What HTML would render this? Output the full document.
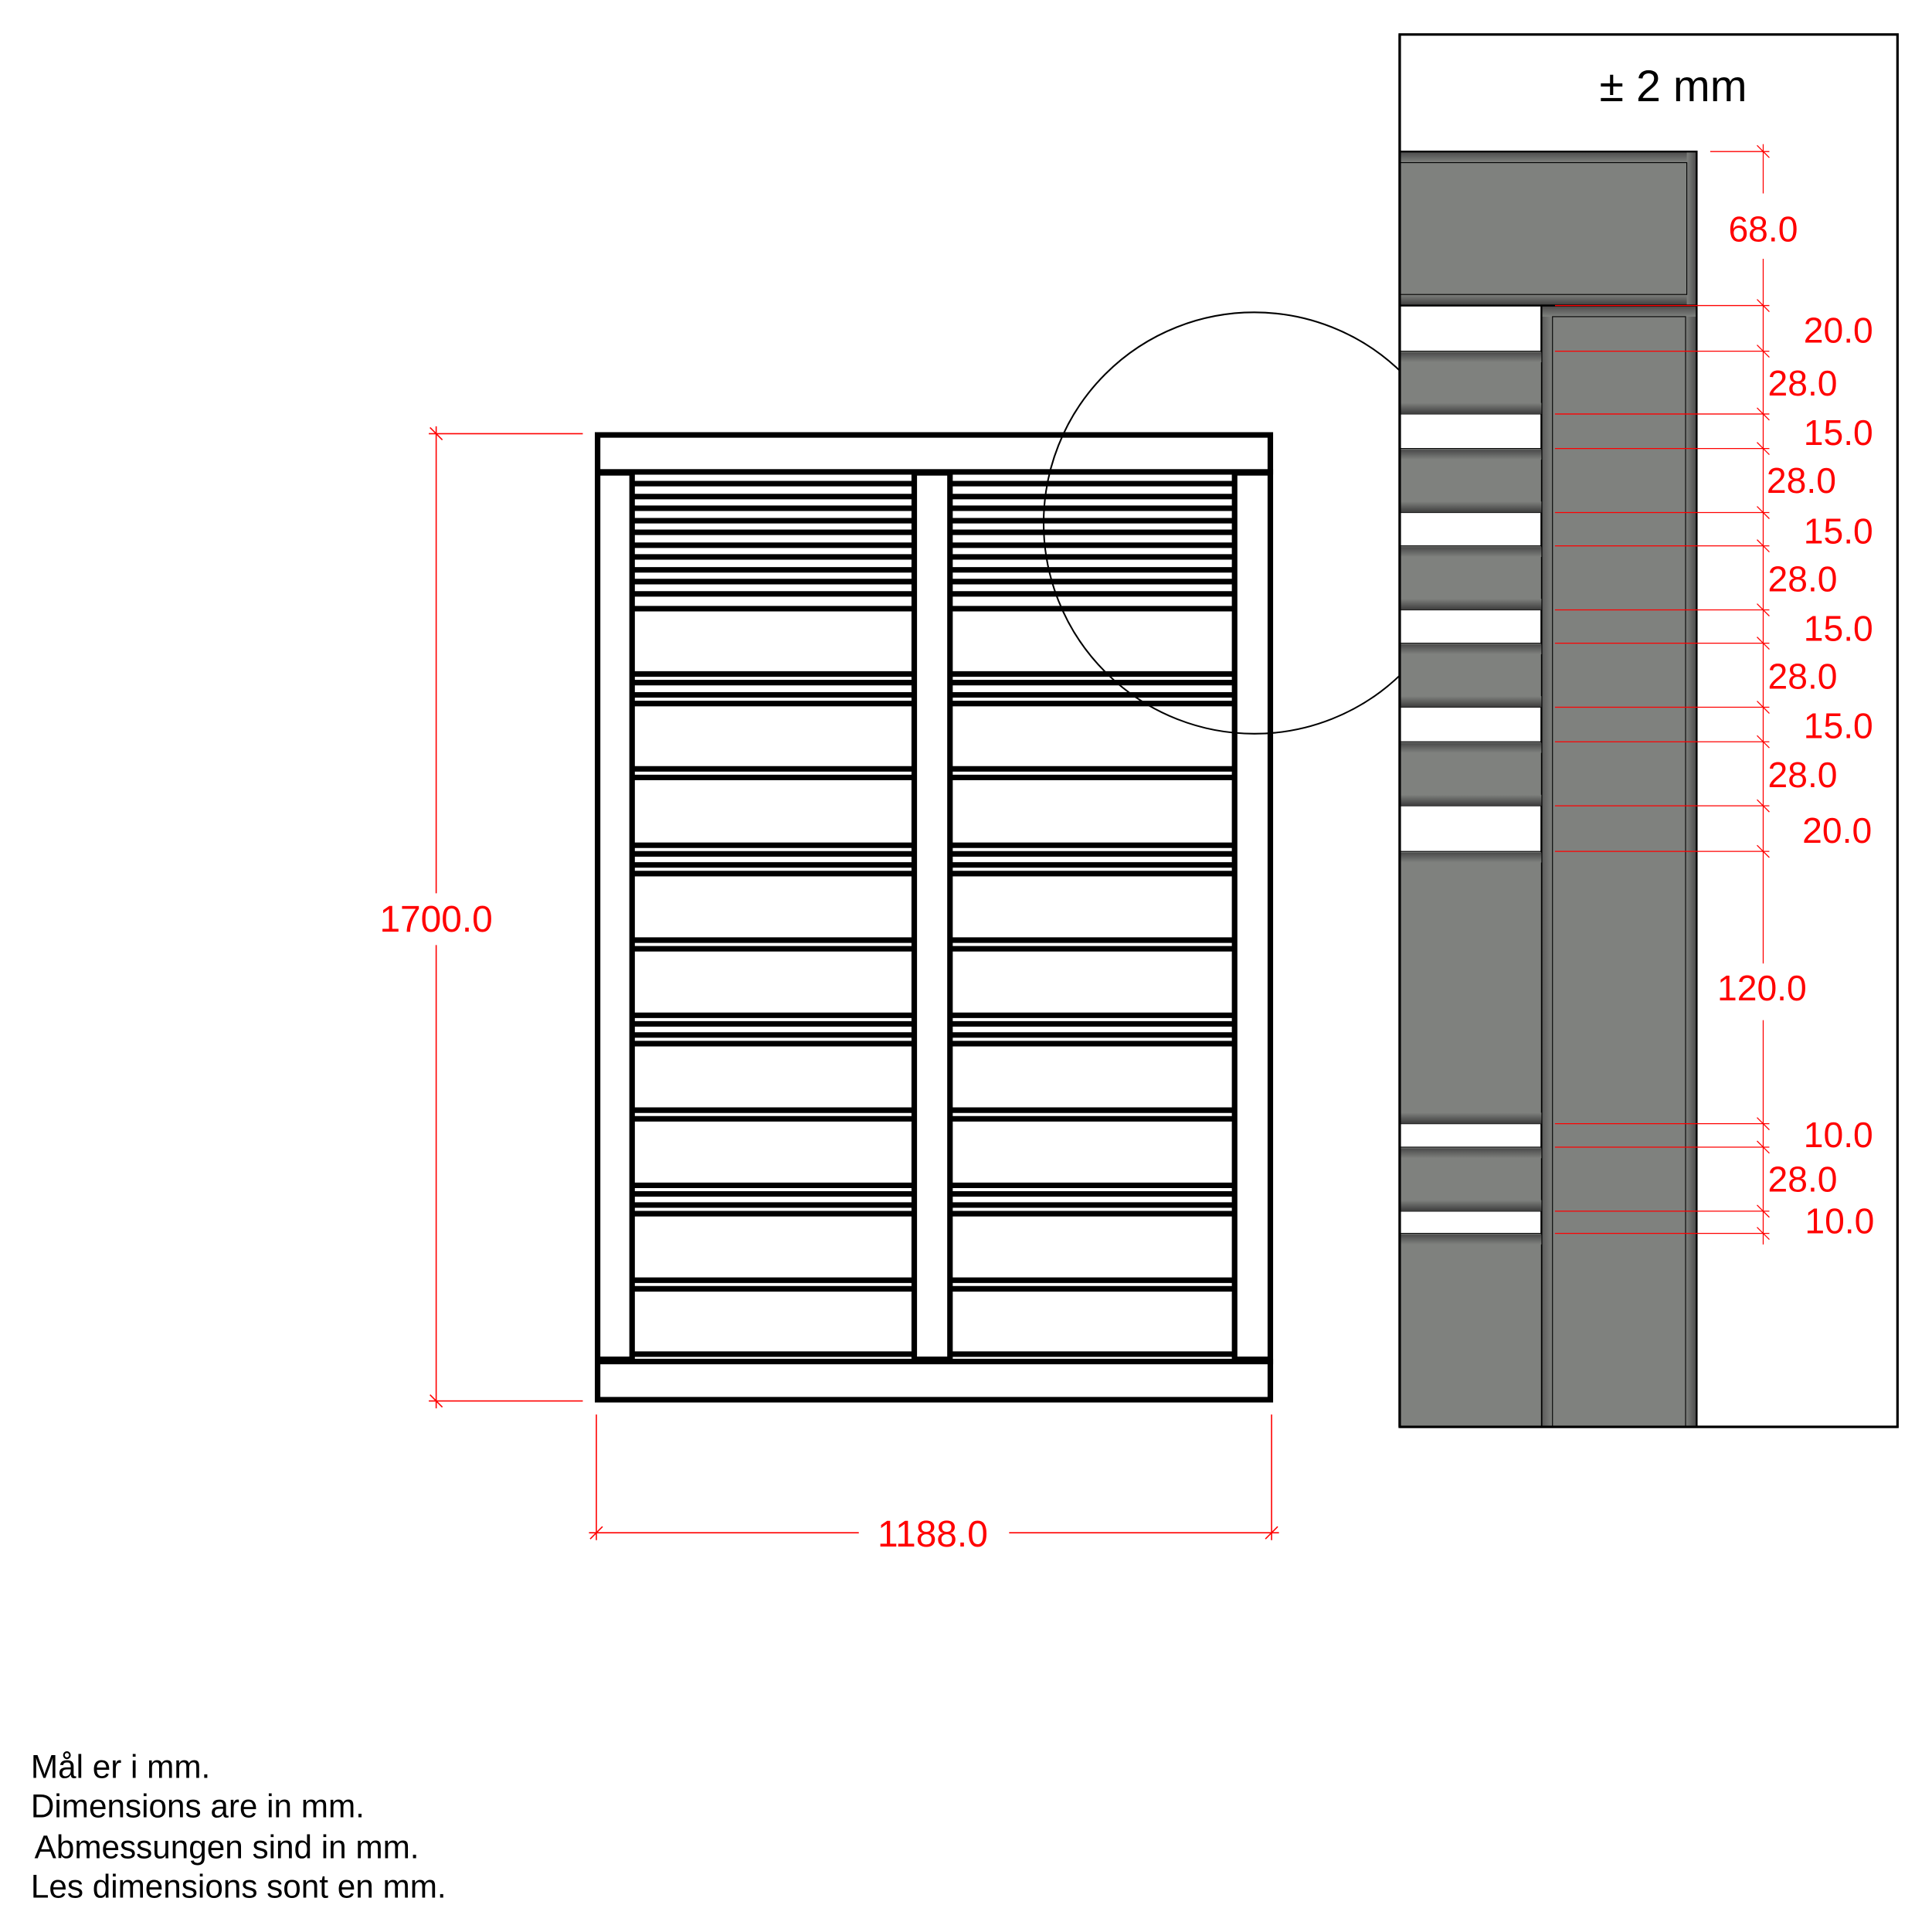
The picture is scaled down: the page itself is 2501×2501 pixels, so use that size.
<!DOCTYPE html>
<html><head><meta charset="utf-8"><style>html,body{margin:0;padding:0;background:#fff}svg{display:block}</style></head>
<body>
<svg width="2501" height="2501" viewBox="0 0 1568 1568" xmlns="http://www.w3.org/2000/svg" font-family="Liberation Sans, sans-serif">
<defs>
<linearGradient id="bt" x1="0" y1="0" x2="0" y2="1"><stop offset="0" stop-color="#4a4a4a"/><stop offset="1" stop-color="#7f817e"/></linearGradient>
<linearGradient id="bb" x1="0" y1="0" x2="0" y2="1"><stop offset="0" stop-color="#7f817e"/><stop offset="1" stop-color="#3c3c3c"/></linearGradient>
<linearGradient id="bl" x1="0" y1="0" x2="1" y2="0"><stop offset="0" stop-color="#5a5a5a"/><stop offset="1" stop-color="#7f817e"/></linearGradient>
<linearGradient id="br" x1="0" y1="0" x2="1" y2="0"><stop offset="0" stop-color="#7f817e"/><stop offset="1" stop-color="#4a4a4a"/></linearGradient>
</defs>
<rect width="1568" height="1568" fill="#fff"/>

<!-- horizontal slat lines -->
<g stroke="#000" stroke-width="4.5">
<line x1="514" x2="1002" y1="392.5" y2="392.5"/><line x1="514" x2="1002" y1="403" y2="403"/>
<line x1="514" x2="1002" y1="412.5" y2="412.5"/><line x1="514" x2="1002" y1="422.6" y2="422.6"/>
<line x1="514" x2="1002" y1="432" y2="432"/><line x1="514" x2="1002" y1="442.5" y2="442.5"/>
<line x1="514" x2="1002" y1="452" y2="452"/><line x1="514" x2="1002" y1="462.5" y2="462.5"/>
<line x1="514" x2="1002" y1="472" y2="472"/><line x1="514" x2="1002" y1="482" y2="482"/>
<line x1="514" x2="1002" y1="494" y2="494"/>
<line x1="514" x2="1002" y1="547" y2="547"/><line x1="514" x2="1002" y1="554" y2="554"/>
<line x1="514" x2="1002" y1="564" y2="564"/><line x1="514" x2="1002" y1="571" y2="571"/>
<line x1="514" x2="1002" y1="624" y2="624"/><line x1="514" x2="1002" y1="631" y2="631"/>
<line x1="514" x2="1002" y1="686" y2="686"/><line x1="514" x2="1002" y1="693" y2="693"/>
<line x1="514" x2="1002" y1="702" y2="702"/><line x1="514" x2="1002" y1="709" y2="709"/>
<line x1="514" x2="1002" y1="763" y2="763"/><line x1="514" x2="1002" y1="770" y2="770"/>
<line x1="514" x2="1002" y1="824" y2="824"/><line x1="514" x2="1002" y1="831" y2="831"/>
<line x1="514" x2="1002" y1="840" y2="840"/><line x1="514" x2="1002" y1="847" y2="847"/>
<line x1="514" x2="1002" y1="901" y2="901"/><line x1="514" x2="1002" y1="908" y2="908"/>
<line x1="514" x2="1002" y1="962" y2="962"/><line x1="514" x2="1002" y1="969" y2="969"/>
<line x1="514" x2="1002" y1="978" y2="978"/><line x1="514" x2="1002" y1="985" y2="985"/>
<line x1="514" x2="1002" y1="1039" y2="1039"/><line x1="514" x2="1002" y1="1046" y2="1046"/>
<line x1="514" x2="1002" y1="1099" y2="1099"/>
</g>
<!-- stiles -->
<g fill="#fff" stroke="#000" stroke-width="4.5">
<rect x="485" y="383" width="28" height="722"/>
<rect x="742" y="383" width="29" height="722"/>
<rect x="1002" y="383" width="29" height="722"/>
<rect x="485" y="353" width="546" height="30"/>
<rect x="485" y="1105" width="546" height="31"/>
</g>
<g fill="#000">
<rect x="485" y="381" width="30" height="5"/><rect x="740" y="381" width="33" height="5"/><rect x="1000" y="381" width="32" height="5"/>
<rect x="485" y="1101" width="30" height="5"/><rect x="740" y="1101" width="33" height="5"/><rect x="1000" y="1101" width="32" height="5"/>
</g>

<!-- circle -->
<circle cx="1018" cy="424.5" r="171" fill="none" stroke="#000" stroke-width="1.3"/>

<!-- left dims -->
<g stroke="#f00" stroke-width="1" fill="none">
<line x1="348" y1="352" x2="473" y2="352"/><line x1="348" y1="1137" x2="473" y2="1137"/>
<line x1="354" y1="346" x2="354" y2="725"/><line x1="354" y1="767" x2="354" y2="1143"/>
<line x1="349" y1="347" x2="359" y2="357"/><line x1="349" y1="1132" x2="359" y2="1142"/>
<line x1="484" y1="1148" x2="484" y2="1250"/><line x1="1032" y1="1148" x2="1032" y2="1250"/>
<line x1="478" y1="1244" x2="697" y2="1244"/><line x1="819" y1="1244" x2="1038" y2="1244"/>
<line x1="479" y1="1249" x2="489" y2="1239"/><line x1="1027" y1="1249" x2="1037" y2="1239"/>
</g>
<g fill="#f00" font-size="30" text-anchor="middle">
<text x="354" y="756">1700.0</text>
<text x="757" y="1255">1188.0</text>
</g>

<!-- detail panel -->
<rect x="1136" y="28" width="404" height="1130" fill="#fff" stroke="#000" stroke-width="2"/>
<text x="1358" y="82" font-size="36" text-anchor="middle" fill="#000">± 2 mm</text>

<g>
<rect x="1136" y="123" width="241" height="125" fill="#7f817e"/>
<rect x="1136" y="123" width="241" height="9" fill="url(#bt)"/>
<rect x="1136" y="239" width="241" height="9" fill="url(#bb)"/>
<rect x="1369" y="123" width="8" height="125" fill="url(#br)"/>
<rect x="1136" y="132" width="233" height="107" fill="none" stroke="#000" stroke-width="0.7"/>
<rect x="1136" y="123" width="241" height="125" fill="none" stroke="#000" stroke-width="1.5"/>
<rect x="1251" y="248" width="126" height="910" fill="#7f817e"/>
<rect x="1251" y="248" width="9" height="910" fill="url(#bl)"/>
<rect x="1368" y="248" width="9" height="910" fill="url(#br)"/>
<rect x="1251" y="248" width="126" height="9" fill="url(#bt)"/>
<rect x="1260" y="257" width="108" height="901" fill="none" stroke="#000" stroke-width="0.7"/>
<rect x="1251" y="248" width="126" height="910" fill="none" stroke="#000" stroke-width="1.5"/>
<g fill="#7f817e" stroke="#000" stroke-width="0.7">
<rect x="1136" y="285" width="115" height="51"/>
<rect x="1136" y="364" width="115" height="52"/>
<rect x="1136" y="443" width="115" height="52"/>
<rect x="1136" y="522" width="115" height="52"/>
<rect x="1136" y="602" width="115" height="52"/>
<rect x="1136" y="691" width="115" height="221"/>
<rect x="1136" y="931" width="115" height="52"/>
<rect x="1136" y="1001" width="115" height="157"/>
</g>
<g>
<rect x="1136" y="286" width="115" height="8" fill="url(#bt)"/><rect x="1136" y="327" width="115" height="9" fill="url(#bb)"/>
<rect x="1136" y="365" width="115" height="8" fill="url(#bt)"/><rect x="1136" y="407" width="115" height="9" fill="url(#bb)"/>
<rect x="1136" y="444" width="115" height="8" fill="url(#bt)"/><rect x="1136" y="486" width="115" height="9" fill="url(#bb)"/>
<rect x="1136" y="523" width="115" height="8" fill="url(#bt)"/><rect x="1136" y="565" width="115" height="9" fill="url(#bb)"/>
<rect x="1136" y="603" width="115" height="8" fill="url(#bt)"/><rect x="1136" y="645" width="115" height="9" fill="url(#bb)"/>
<rect x="1136" y="692" width="115" height="8" fill="url(#bt)"/><rect x="1136" y="903" width="115" height="9" fill="url(#bb)"/>
<rect x="1136" y="932" width="115" height="8" fill="url(#bt)"/><rect x="1136" y="974" width="115" height="9" fill="url(#bb)"/>
<rect x="1136" y="1002" width="115" height="8" fill="url(#bt)"/>
</g>
<line x1="1136" y1="28" x2="1136" y2="1158" stroke="#000" stroke-width="2"/>
<line x1="1136" y1="1158" x2="1540" y2="1158" stroke="#000" stroke-width="2"/>
</g>

<g stroke="#f00" stroke-width="0.8">
<line x1="1388" y1="123" x2="1436" y2="123"/>
<line x1="1262" y1="248" x2="1436" y2="248"/>
<line x1="1262" y1="285" x2="1436" y2="285"/>
<line x1="1262" y1="336" x2="1436" y2="336"/>
<line x1="1262" y1="364" x2="1436" y2="364"/>
<line x1="1262" y1="416" x2="1436" y2="416"/>
<line x1="1262" y1="443" x2="1436" y2="443"/>
<line x1="1262" y1="495" x2="1436" y2="495"/>
<line x1="1262" y1="522" x2="1436" y2="522"/>
<line x1="1262" y1="574" x2="1436" y2="574"/>
<line x1="1262" y1="602" x2="1436" y2="602"/>
<line x1="1262" y1="654" x2="1436" y2="654"/>
<line x1="1262" y1="691" x2="1436" y2="691"/>
<line x1="1262" y1="912" x2="1436" y2="912"/>
<line x1="1262" y1="931" x2="1436" y2="931"/>
<line x1="1262" y1="983" x2="1436" y2="983"/>
<line x1="1262" y1="1001" x2="1436" y2="1001"/>
<line x1="1431" y1="117" x2="1431" y2="157"/>
<line x1="1431" y1="210" x2="1431" y2="782"/>
<line x1="1431" y1="828" x2="1431" y2="1010"/>
<line x1="1426" y1="118" x2="1436" y2="128"/><line x1="1426" y1="243" x2="1436" y2="253"/>
<line x1="1426" y1="280" x2="1436" y2="290"/><line x1="1426" y1="331" x2="1436" y2="341"/>
<line x1="1426" y1="359" x2="1436" y2="369"/><line x1="1426" y1="411" x2="1436" y2="421"/>
<line x1="1426" y1="438" x2="1436" y2="448"/><line x1="1426" y1="490" x2="1436" y2="500"/>
<line x1="1426" y1="517" x2="1436" y2="527"/><line x1="1426" y1="569" x2="1436" y2="579"/>
<line x1="1426" y1="597" x2="1436" y2="607"/><line x1="1426" y1="649" x2="1436" y2="659"/>
<line x1="1426" y1="686" x2="1436" y2="696"/><line x1="1426" y1="907" x2="1436" y2="917"/>
<line x1="1426" y1="926" x2="1436" y2="936"/><line x1="1426" y1="978" x2="1436" y2="988"/>
<line x1="1426" y1="996" x2="1436" y2="1006"/>
</g>
<g fill="#f00" font-size="29" text-anchor="middle">
<text x="1431" y="196">68.0</text>
<text x="1492" y="278">20.0</text>
<text x="1463" y="321">28.0</text>
<text x="1492" y="361">15.0</text>
<text x="1462" y="400">28.0</text>
<text x="1492" y="441">15.0</text>
<text x="1463" y="480">28.0</text>
<text x="1492" y="520">15.0</text>
<text x="1463" y="559">28.0</text>
<text x="1492" y="599">15.0</text>
<text x="1463" y="639">28.0</text>
<text x="1491" y="684">20.0</text>
<text x="1430" y="812">120.0</text>
<text x="1492" y="931">10.0</text>
<text x="1463" y="967">28.0</text>
<text x="1493" y="1001">10.0</text>
</g>

<g fill="#000" font-size="26.5">
<text x="25" y="1443">Mål er i mm.</text>
<text x="25" y="1475">Dimensions are in mm.</text>
<text x="28" y="1508">Abmessungen sind in mm.</text>
<text x="25" y="1540">Les dimensions sont en mm.</text>
</g>
</svg>
</body></html>
